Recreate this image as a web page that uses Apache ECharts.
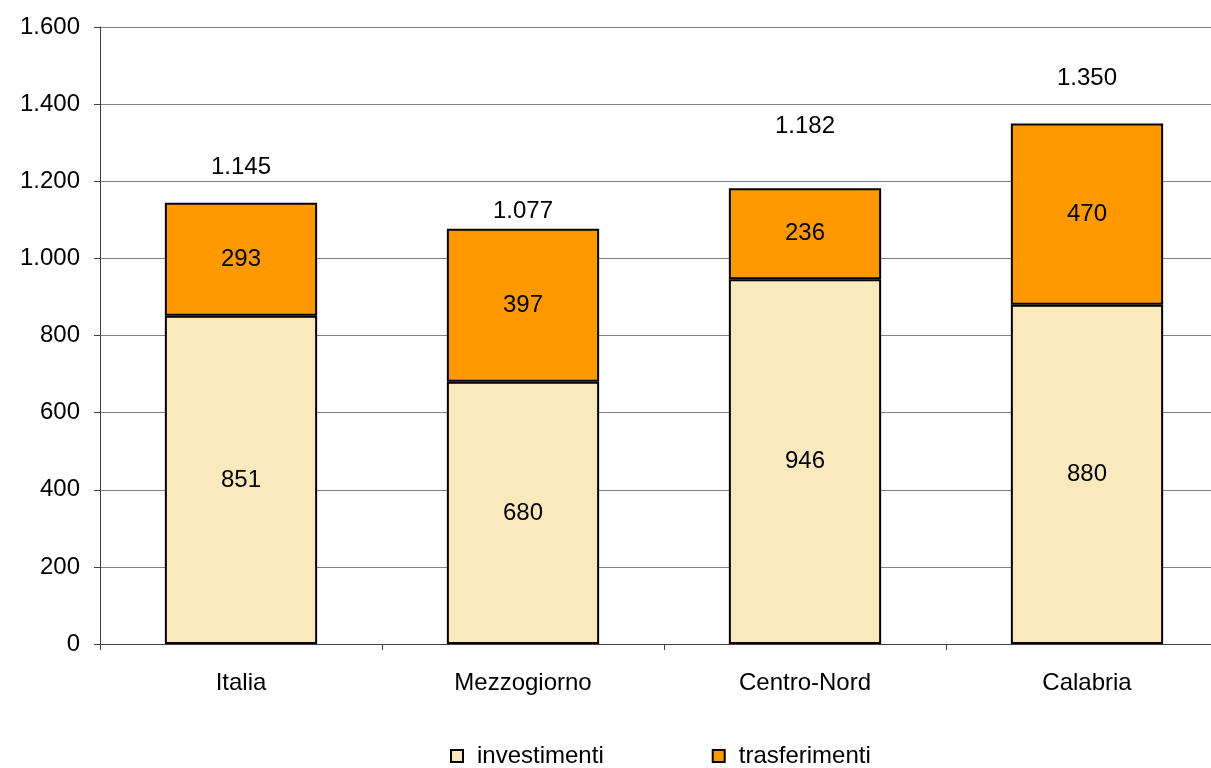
<!DOCTYPE html>
<html>
<head>
<meta charset="utf-8">
<style>
    html, body { margin: 0; padding: 0; background: #fff; overflow: hidden; }
    /* il riquadro del grafico originale esce leggermente oltre il bordo destro */
    #chart { width: 1228px; height: 768px; }
</style>
<script src="https://cdn.jsdelivr.net/npm/echarts@6/dist/echarts.min.js"></script>
</head>
<body>
<div id="chart"></div>
<script>
// dati
const categories = ['Italia', 'Mezzogiorno', 'Centro-Nord', 'Calabria'];
const investimenti = [851, 680, 946, 880];
const trasferimenti = [293, 397, 236, 470];
const totali = [1145, 1077, 1182, 1350];
const yTicks = [0, 200, 400, 600, 800, 1000, 1200, 1400, 1600];

// spostamento verticale delle etichette dei totali (come nell'originale)
const totalLabelShift = [-35, -17, -62, -45];

const fontFamily = 'Liberation Sans, Arial, sans-serif';
const fontSize = 24;

// separatore delle migliaia all'italiana
function fmt(v) {
    return String(v).replace(/\B(?=(\d{3})+(?!\d))/g, '.');
}

const myChart = echarts.init(document.getElementById('chart'));

const option = {
    backgroundColor: '#fff',
    animation: false,
    textStyle: { fontFamily: fontFamily },
    grid: {
        left: 100,
        right: 0,
        top: 27,
        bottom: 124
    },
    legend: {
        data: ['investimenti', 'trasferimenti'],
        top: 739,
        left: 445,
        icon: 'rect',
        itemWidth: 12,
        itemHeight: 12,
        itemGap: 108,
        textStyle: {
            fontSize: fontSize,
            color: '#000',
            fontFamily: fontFamily,
            padding: [0, 0, 0, 9]
        }
    },
    xAxis: {
        type: 'category',
        data: categories,
        axisLine: { lineStyle: { color: '#404040', width: 1 } },
        axisTick: { show: true, length: 6, lineStyle: { color: '#404040' } },
        axisLabel: { color: '#000', fontSize: fontSize, margin: 27, fontFamily: fontFamily }
    },
    yAxis: {
        type: 'value',
        min: yTicks[0],
        max: yTicks[yTicks.length - 1],
        interval: yTicks[1] - yTicks[0],
        axisLine: { show: true, lineStyle: { color: '#404040', width: 1 } },
        axisTick: { show: true, length: 6, lineStyle: { color: '#404040' } },
        axisLabel: {
            color: '#000',
            fontSize: fontSize,
            margin: 20,
            fontFamily: fontFamily,
            formatter: (v) => fmt(v)
        },
        splitLine: { lineStyle: { color: '#808080', width: 1 } }
    },
    series: [
        {
            name: 'investimenti',
            type: 'bar',
            stack: 'tot',
            data: investimenti,
            barWidth: '54%',
            itemStyle: { color: '#FAE9BD', borderColor: '#000', borderWidth: 2 },
            label: {
                show: true,
                position: 'inside',
                color: '#000',
                fontSize: fontSize,
                fontFamily: fontFamily,
                formatter: (p) => fmt(p.value)
            }
        },
        {
            name: 'trasferimenti',
            type: 'bar',
            stack: 'tot',
            data: trasferimenti,
            barWidth: '54%',
            itemStyle: { color: '#FF9900', borderColor: '#000', borderWidth: 2 },
            label: {
                show: true,
                position: 'inside',
                color: '#000',
                fontSize: fontSize,
                fontFamily: fontFamily,
                formatter: (p) => fmt(p.value)
            }
        },
        {
            name: 'totale',
            type: 'scatter',
            symbolSize: 1,
            itemStyle: { color: 'transparent', opacity: 1 },
            silent: true,
            data: totali.map((v, i) => ({
                value: v,
                label: { offset: [0, totalLabelShift[i]] }
            })),
            label: {
                show: true,
                position: 'inside',
                color: '#000',
                fontSize: fontSize,
                fontFamily: fontFamily,
                formatter: (p) => fmt(p.value)
            }
        }
    ]
};

myChart.setOption(option);

window.addEventListener('resize', () => {
    myChart.resize();
});
</script>
</body>
</html>
